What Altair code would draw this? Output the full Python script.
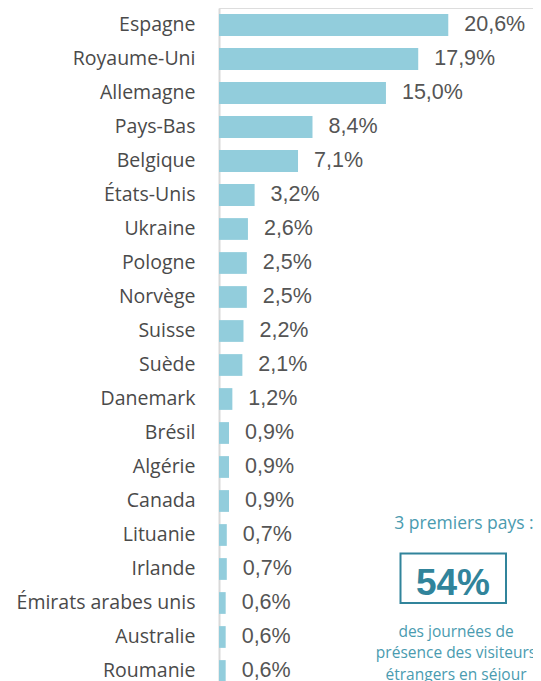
import altair as alt
import pandas as pd

countries = ["Espagne", "Royaume-Uni", "Allemagne", "Pays-Bas", "Belgique",
             "États-Unis", "Ukraine", "Pologne", "Norvège", "Suisse", "Suède",
             "Danemark", "Brésil", "Algérie", "Canada", "Lituanie", "Irlande",
             "Émirats arabes unis", "Australie", "Roumanie"]
shares = [20.6, 17.9, 15.0, 8.4, 7.1, 3.2, 2.6, 2.5, 2.5, 2.2, 2.1,
          1.2, 0.9, 0.9, 0.9, 0.7, 0.7, 0.6, 0.6, 0.6]

note_top = "3 premiers pays :"
note_big = "54%"
note_lines = ["des journées de", "présence des visiteurs", "étrangers en séjour"]

df = pd.DataFrame({"pays": countries, "part": shares})

W, H = 314, 680
bar_color = "#92CDDC"
text_grey = "#4A4A4A"
teal = "#4A9BB0"
teal_dark = "#31849B"

y_enc = alt.Y("pays:N", sort=countries,
              scale=alt.Scale(paddingInner=0.36, paddingOuter=0.18),
              axis=alt.Axis(title=None, ticks=False, labelPadding=24,
                            labelFont="Open Sans", labelFontSize=19.5,
                            labelColor=text_grey, domainColor="#D9D9D9",
                            domainWidth=2, labelLimit=300))
x_enc = alt.X("part:Q", scale=alt.Scale(domain=[0, W / 11.13], nice=False),
              axis=None)

base = alt.Chart(df)
bars = base.mark_bar(color=bar_color, cornerRadius=0).encode(x=x_enc, y=y_enc)
vals = base.transform_calculate(
    lab="replace(format(datum.part, '.1f'), '.', ',') + '%'"
).mark_text(align="left", baseline="middle", dx=16, dy=0,
            font="Liberation Sans", fontSize=21.5, color="#555555").encode(
    x=x_enc, y=y_enc, text="lab:N")

one = alt.Data(values=[{"k": 0}])
box = alt.Chart(one).mark_rect(fill="white", stroke=teal_dark, strokeWidth=2).encode(
    x=alt.value(181.5), x2=alt.value(287), y=alt.value(545.5), y2=alt.value(595))
top_txt = alt.Chart(one).mark_text(font="Open Sans", fontSize=17.5, color=teal,
                                   align="center", baseline="middle").encode(
    x=alt.value(245), y=alt.value(516), text=alt.value(note_top))
big_txt = alt.Chart(one).mark_text(font="Liberation Sans", fontWeight="bold",
                                   fontSize=37, color=teal_dark,
                                   align="center", baseline="alphabetic").encode(
    x=alt.value(234), y=alt.value(587), text=alt.value(note_big))
lines_df = pd.DataFrame({"t": note_lines, "i": list(range(len(note_lines)))})
low_txt = alt.Chart(lines_df).transform_calculate(
    yy="623.5 + datum.i * 21.5"
).mark_text(font="Open Sans", fontSize=15.5, color=teal, align="center",
            baseline="middle").encode(
    x=alt.value(237), y=alt.Y("yy:Q", scale=None), text="t:N")

chart = alt.layer(bars, vals, box, top_txt, big_txt, low_txt).properties(
    width=W, height=H,
    autosize=alt.AutoSizeParams(type="none"),
    padding={"left": 211, "top": 0, "right": 0, "bottom": 0},
).configure_view(stroke=None).configure(background="white")

chart.save("out.html", embed_options={"renderer": "svg", "actions": False})
